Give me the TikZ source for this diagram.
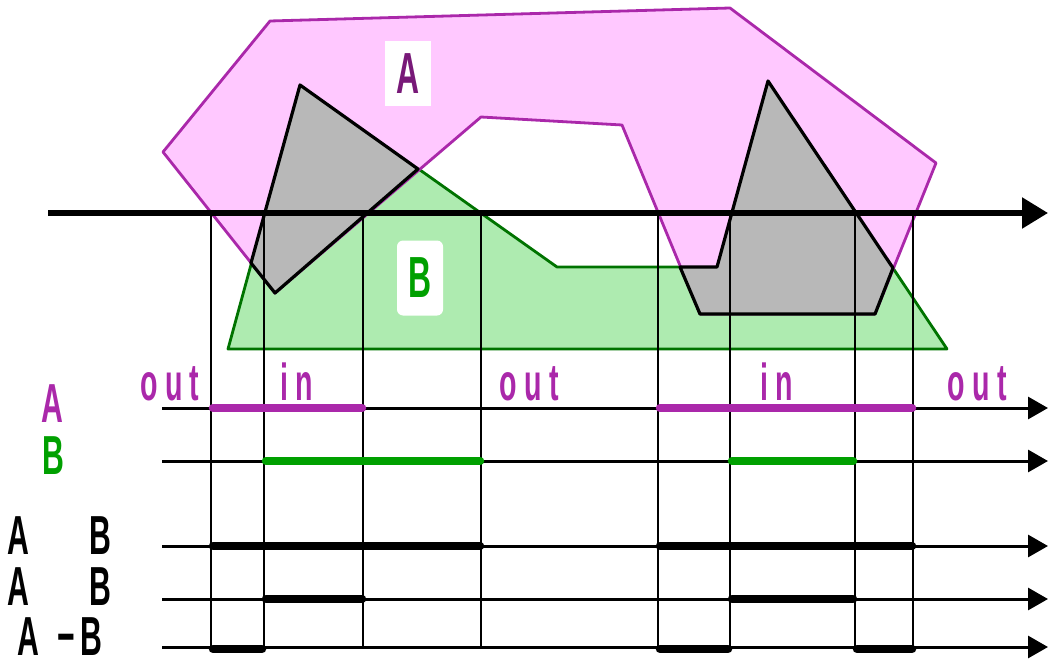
\documentclass[tikz,border=0pt]{standalone}
\usepackage{fontspec}
\setmainfont{Liberation Sans}[FakeStretch=0.55]
\newfontfamily\spacedfont{Liberation Sans}[FakeStretch=0.55, LetterSpace=14]
\usetikzlibrary{arrows.meta, positioning}

\definecolor{apink}{RGB}{255,200,255}
\definecolor{aline}{RGB}{170,40,170}
\definecolor{adark}{RGB}{120,25,120}
\definecolor{bgreen}{RGB}{174,235,176}
\definecolor{bline}{RGB}{0,115,0}
\definecolor{btext}{RGB}{0,160,0}
\definecolor{abgray}{RGB}{184,184,184}

\tikzset{
  setline/.style={line width=2.8pt, line join=round},
  rowline/.style={line width=3pt, -{Triangle[length=20pt, width=22pt]}},
  cutline/.style={line width=2.8pt},
  bar/.style={line width=8.5pt, line cap=round},
  caplbl/.style={font={\bfseries\fontsize{55pt}{55pt}\selectfont}, anchor=base, inner sep=0pt, text height=40pt, text depth=0pt},
  inout/.style={font={\spacedfont\bfseries\fontsize{52pt}{52pt}\selectfont}, text=aline, anchor=base, inner sep=0pt}
}

\begin{document}
\begin{tikzpicture}[x=1pt, y=-1pt]
    \useasboundingbox (0,0) rectangle (1049,666);
    % the two sets and their overlap
    \filldraw[setline, fill=bgreen, draw=bline] (228,349) -- (300,85) -- (557,267) -- (717,267) -- (768,81) -- (947,349) -- cycle;
    \filldraw[setline, fill=apink, draw=aline] (163,152) -- (270,21) -- (730,8) -- (936,163) -- (875,314) -- (700,314) -- (622,125) -- (481,117) -- (275,293) -- cycle;
    \filldraw[line width=3.2pt, line join=round, fill=abgray] (300,85) -- (418,169) -- (275,293) -- (251,263) -- cycle;
    \filldraw[line width=3.2pt, line join=round, fill=abgray] (680,267) -- (717,267) -- (768,81) -- (893,268) -- (875,314) -- (700,314) -- cycle;
    \node[fill=white, minimum width=46pt, minimum height=65pt, inner sep=0pt, text=adark, font={\bfseries\fontsize{58pt}{58pt}\selectfont}] (nameA) at (408,74) {A};
    \node[fill=white, rounded corners=6pt, minimum width=46pt, minimum height=75pt, inner sep=0pt, text=btext, font={\bfseries\fontsize{58pt}{58pt}\selectfont}] (nameB) at (420,278) {B};
    % scan line
    \coordinate (scan0) at (48,213);
    \coordinate (scan1) at (1048,213);
    \draw[line width=5.5pt, -{Triangle[length=26pt, width=30pt]}] (scan0) -- (scan1);
    % result rows
    \foreach \y/\n in {408/a, 461/b, 546/u, 599/i, 647/d}
        \draw[rowline] (162,\y) coordinate (\n0) -- (1048,\y) coordinate (\n1);
    \foreach \x in {211, 264, 363, 481, 658, 730, 855, 913}
        \draw[cutline] (\x,213) -- (\x,647);
    % intervals
    \draw[bar, aline] (213,408) -- (362,408);
    \draw[bar, aline] (660,408) -- (912,408);
    \draw[bar, btext] (266,461) -- (480,461);
    \draw[bar, btext] (732,461) -- (853,461);
    \draw[bar] (213,546) -- (480,546);
    \draw[bar] (660,546) -- (912,546);
    \draw[bar] (266,599) -- (362,599);
    \draw[bar] (732,599) -- (853,599);
    \draw[bar] (213,649) -- (262,649);
    \draw[bar] (660,649) -- (728,649);
    \draw[bar] (857,649) -- (912,649);
    % labels
    \node[inout] (out1) at (170,400) {out};
    \node[inout] (in1) at (297,400) {in};
    \node[inout] (out2) at (529,400) {out};
    \node[inout] (in2) at (777,400) {in};
    \node[inout] (out3) at (977,400) {out};
    \node[caplbl, text=aline] (rowA) at (52,422) {A};
    \node[caplbl, text=btext] (rowB) at (53,474) {B};
    \node[caplbl, anchor=base west] (rowU) at (7,554) {A\hspace{60pt}B};
    \node[caplbl, anchor=base west] (rowI) at (7,605) {A\hspace{60pt}B};
    \node[caplbl, anchor=base west] (rowD) at (17,655) {A\hspace{18pt}−\hspace{6pt}B};
\end{tikzpicture}
\end{document}
